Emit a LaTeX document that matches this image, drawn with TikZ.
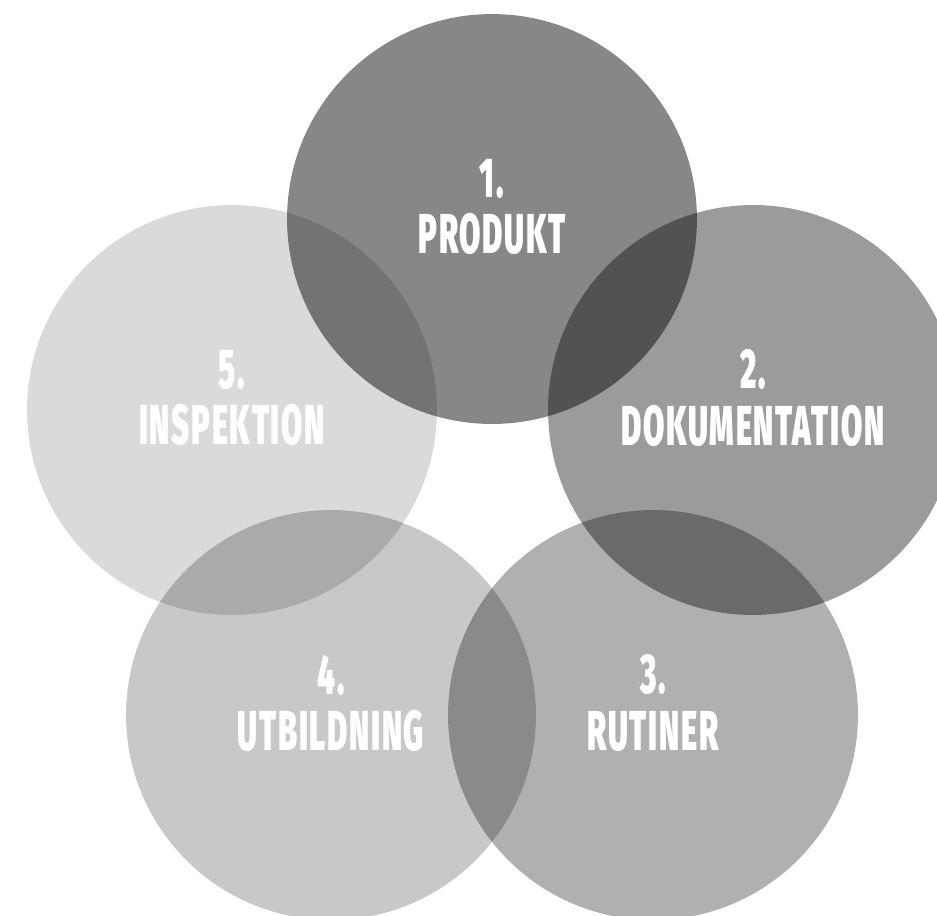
\documentclass[tikz,border=0pt]{standalone}
\usepackage{fontspec}
\setmainfont{Fira Sans}[FakeStretch=0.55, LetterSpace=3, BoldFont={Fira Sans Black}]
\usepackage{xcolor}
\definecolor{grayA}{HTML}{878787}
\definecolor{grayB}{HTML}{9B9B9B}
\definecolor{grayC}{HTML}{B0B0B0}
\definecolor{grayD}{HTML}{C8C8C8}
\definecolor{grayE}{HTML}{DADADA}
\begin{document}
\begin{tikzpicture}[x=0.02cm,y=-0.02cm,
    ring/.style={circle, minimum size=8.2cm, inner sep=0pt},
    lbl/.style={text=white, align=center, yshift=0.24cm,
                font=\bfseries\fontsize{32}{32}\selectfont}]
          \useasboundingbox (0,0) rectangle (937,916);

          \begin{scope}[blend group=multiply]
            \node[ring, fill=grayA] (produkt) at (492,219) {};
            \node[ring, fill=grayB] (dokumentation) at (753,410) {};
            \node[ring, fill=grayC] (rutiner) at (653,715) {};
            \node[ring, fill=grayD] (utbildning) at (331,715) {};
            \node[ring, fill=grayE] (inspektion) at (232,410) {};
          \end{scope}

          \node[lbl] (l1) at (produkt) {1.\\PRODUKT};
          \node[lbl] (l2) at (dokumentation) {2.\\DOKUMENTATION};
          \node[lbl] (l3) at (rutiner) {3.\\RUTINER};
          \node[lbl] (l4) at (utbildning) {4.\\UTBILDNING};
          \node[lbl] (l5) at (inspektion) {5.\\INSPEKTION};
        \end{tikzpicture}
\end{document}
